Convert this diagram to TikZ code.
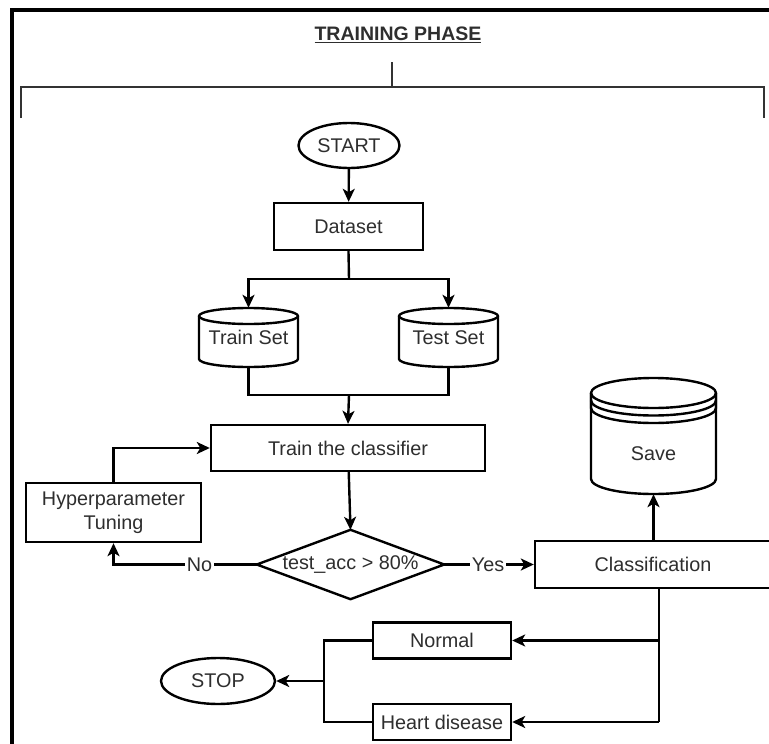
\documentclass[tikz,border=0pt]{standalone}
\usepackage{fontspec}
\setmainfont{Liberation Sans}
\usetikzlibrary{shapes.geometric,arrows.meta}
\definecolor{txt}{HTML}{2E2E2E}
\begin{document}
\begin{tikzpicture}[x=1pt,y=-1pt,
  every node/.style={font=\fontsize{19.8}{24}\selectfont, text=txt, inner sep=0pt},
  box/.style={draw=black, line width=2.4pt, rectangle},
  invis/.style={rectangle, draw=none},
  ell/.style={draw=black, line width=2.4pt, ellipse},
  shp/.style={draw=black, line width=2.4pt, line join=round},
  wire/.style={draw=black, line width=2.4pt},
  conn/.style={draw=black, line width=2.4pt, -{Stealth[length=13pt,width=12pt,inset=3.5pt]}},
  lab/.style={fill=white, inner sep=1.5pt},
  frame/.style={draw=black, line width=3.2pt},
  brk/.style={draw=black!80, line width=2.6pt}
]
\useasboundingbox (0,0) rectangle (769,744);
\fill[white] (0,0) rectangle (769,744);

% outer frame (top and left visible)
\draw[frame] (771,10) -- (12,10) -- (12,746);

% title and bracket
\node[font=\bfseries\fontsize{19.5}{23}\selectfont] (title) at (398,35) {\underline{TRAINING PHASE}};
\coordinate (bt) at (392,62);
\coordinate (bm) at (392,87);
\coordinate (bl) at (21,87);
\coordinate (br) at (764,87);
\coordinate (bld) at (21,118);
\coordinate (brd) at (764,118);
\draw[brk] (bt) -- (bm);
\draw[brk] (bld) -- (bl) -- (br) -- (brd);

% nodes
\node[ell, minimum width=101pt, minimum height=45pt] (start) at (349,145.5) {START};
\node[box, minimum width=149pt, minimum height=47pt] (data) at (348.5,226.5) {Dataset};
\node[invis, minimum width=99pt, minimum height=59pt] (train) at (248.5,337.5) {Train Set};
\node[invis, minimum width=99pt, minimum height=59pt] (test) at (448.5,337.5) {Test Set};
\node[box, minimum width=274pt, minimum height=46pt] (clf) at (348,448) {Train the classifier};
\node[invis, minimum width=187pt, minimum height=69pt] (dec) at (350.5,564.5) {test\_acc > 80\%};
\node[box, minimum width=175pt, minimum height=59pt, align=center] (hyp) at (113.5,512.5) {Hyperparameter\\Tuning};
\node[box, minimum width=236pt, minimum height=47pt] (cls) at (653,564.5) {Classification};
\node[invis, minimum width=125pt, minimum height=116pt] (save) at (653.5,436) {};
\node (savelbl) at (653.5,454) {Save};
\node[box, minimum width=138pt, minimum height=36pt] (norm) at (442,640.5) {Normal};
\node[box, minimum width=138pt, minimum height=36pt] (heart) at (442,722) {Heart disease};
\node[ell, minimum width=114pt, minimum height=46pt] (stop) at (218,681) {STOP};

% cylinder outlines
\draw[shp] (199,316) -- (199,359) arc[start angle=180,end angle=360,x radius=49.5pt,y radius=8pt] -- (298,316);
\draw[shp] (248.5,316) ellipse [x radius=49.5pt, y radius=8pt];
\draw[shp] (399,316) -- (399,359) arc[start angle=180,end angle=360,x radius=49.5pt,y radius=8pt] -- (498,316);
\draw[shp] (448.5,316) ellipse [x radius=49.5pt, y radius=8pt];

\draw[shp] (591,393) -- (591,479) arc[start angle=180,end angle=360,x radius=62.5pt,y radius=15pt] -- (716,393);
\draw[shp] (653.5,393) ellipse [x radius=62.5pt, y radius=15pt];
\draw[shp] (591,393) -- (591,408) arc[start angle=180,end angle=360,x radius=62.5pt,y radius=15pt] -- (716,393);
\draw[shp] (591,400.5) arc[start angle=180,end angle=360,x radius=62.5pt,y radius=15pt];

% diamond outline
\draw[shp] (dec.north) -- (dec.east) -- (dec.south) -- (dec.west) -- cycle;

% connectors
\coordinate (s1) at (349,279);
\coordinate (j1) at (349,395);
\coordinate (d1) at (659,640.5);
\coordinate (d2) at (659,722);
\coordinate (l1) at (324,681);

\draw[conn] (start) -- (data);
\draw[wire] (data.south) -- (s1);
\draw[conn] (s1) -| (train.north);
\draw[conn] (s1) -| (test.north);
\draw[wire] (train.south) |- (j1);
\draw[wire] (test.south) |- (j1);
\draw[conn] (j1) -- (clf.north);
\draw[conn] (clf) -- (dec.north);
\draw[conn] (dec.west) -| node[lab, pos=0.2]{No} (hyp.south);
\draw[conn] (hyp.north) |- (clf.west);
\draw[conn] (dec.east) -- node[lab, pos=0.49]{Yes} (cls.west);
\draw[conn] (cls.north -| save.south) -- (save.south);
\draw[wire] (cls.south -| d1) -- (d2);
\draw[conn] (d1) -- (norm.east);
\draw[conn] (d2) -- (heart.east);
\draw[wire] (norm.west) -| (l1) |- (heart.west);
\draw[conn] (l1) -- (stop.east);
\end{tikzpicture}
\end{document}
